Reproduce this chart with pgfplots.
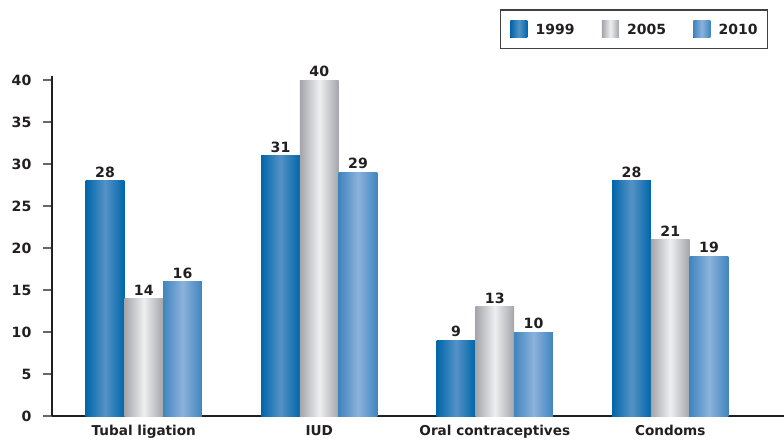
\documentclass[border=0pt]{standalone}
\usepackage{pgfplots}
\pgfplotsset{compat=1.18}
\usepackage{fontspec}
\setmainfont{DejaVu Sans}
\definecolor{bAe}{HTML}{0066AA}
\definecolor{bAm}{HTML}{5592C6}
\definecolor{gBe}{HTML}{A4A5A9}
\definecolor{gBm}{HTML}{EEEFF1}
\definecolor{bCe}{HTML}{4085BF}
\definecolor{bCm}{HTML}{8CB2DB}
\definecolor{txt}{HTML}{231F20}
\pgfplotsset{
  sA/.style={draw=none, bar shift=-0.221, left color=bAe, right color=bAe, middle color=bAm},
  sB/.style={draw=none, bar shift=0, left color=gBe, right color=gBe, middle color=gBm},
  sC/.style={draw=none, bar shift=0.221, left color=bCe, right color=bCe, middle color=bCm},
}
\begin{document}
\begin{tikzpicture}
\begin{axis}[
  scale only axis, width=549pt, height=255.2pt,
  xmin=-0.523, xmax=3.648, ymin=0, ymax=40.51,
  axis x line=bottom, axis y line=left,
  axis line style={-, line width=1.5pt, draw=txt},
  xtick={0,1,2,3},
  xticklabels={Tubal ligation,IUD,Oral contraceptives,Condoms},
  x tick style={draw=none},
  ytick={0,5,...,40},
  y tick style={line width=0.8pt, draw=black!60},
  tick align=outside, major tick length=6.75pt,
  every tick label/.append style={font=\fontsize{10.6}{12}\selectfont\bfseries, text=txt},
  xticklabel style={font=\fontsize{10.2}{12}\selectfont\bfseries},
  /pgf/number format/assume math mode=true,
  yticklabel style={anchor=east, inner sep=0pt, xshift=-8.5pt},
  xticklabel style={anchor=base, inner sep=0pt, yshift=-7.5pt},
  ybar, bar width=0.221,
  nodes near coords,
  nodes near coords style={font=\fontsize{10.6}{12}\selectfont\bfseries, text=txt, anchor=south, inner sep=0pt, yshift=2.25pt},
  clip=false,
  legend columns=3,
  legend style={at={(0.978,1.195)}, anchor=north east, draw=black!75, line width=0.9pt, fill=white,
    inner xsep=7.3pt, inner ysep=8.2pt,
    font=\fontsize{10.5}{12}\selectfont\bfseries, text=txt,
    nodes={inner sep=0pt},
    /tikz/every odd column/.append style={column sep=6.2pt},
    /tikz/every even column/.append style={column sep=20.4pt}},
  legend image code/.code={\fill[#1, draw=none] (0pt,-5.6pt) rectangle (12.75pt,7.15pt);},
]
% 1999
\addplot[sA] coordinates {(0,28)};
% 2005
\addplot[sB] coordinates {(0,14)};
% 2010
\addplot[sC] coordinates {(0,16)};
\addplot[sA, forget plot] coordinates {(1,31)};
\addplot[sA, forget plot] coordinates {(2,9)};
\addplot[sA, forget plot] coordinates {(3,28)};
\addplot[sB, forget plot] coordinates {(1,40)};
\addplot[sB, forget plot] coordinates {(2,13)};
\addplot[sB, forget plot] coordinates {(3,21)};
\addplot[sC, forget plot] coordinates {(1,29)};
\addplot[sC, forget plot] coordinates {(2,10)};
\addplot[sC, forget plot] coordinates {(3,19)};
\legend{1999,2005,2010}
\coordinate (sw) at (rel axis cs:0,0);
\end{axis}
\pgfresetboundingbox
\path (sw) ++(-39pt,-17.25pt) rectangle ++(588pt,329.25pt);
\end{tikzpicture}
\end{document}
